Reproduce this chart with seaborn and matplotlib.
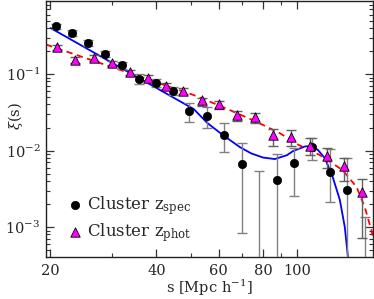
import numpy as np
import pandas as pd
import matplotlib
matplotlib.use("Agg")
import matplotlib.pyplot as plt
import matplotlib.ticker as mticker
import seaborn as sns

# cluster z_spec points (values below the axis are drawn off-plot)
s_spec = [20.8, 23.1, 25.6, 28.6, 31.9, 35.7, 39.9, 44.5, 49.4, 55.6, 62.0,
          69.7, 78.0, 87.6, 97.9, 110.0, 123.6, 138.0, 155.0]
xi_spec = [0.42, 0.344, 0.254, 0.183, 0.131, 0.086, 0.076, 0.060, 0.0328, 0.0282, 0.0159,
           0.00667, 1e-4, 0.00411, 0.00687, 0.0111, 0.00524, 0.00305, 1e-4]
lo_spec = [0.39, 0.318, 0.232, 0.166, 0.118, 0.074, 0.067, 0.053, 0.0236, 0.0197, 0.0096,
           0.00083, 1e-5, 1e-5, 0.00254, 0.0075, 0.00211, 1e-5, 1e-5]
hi_spec = [0.45, 0.372, 0.278, 0.202, 0.145, 0.099, 0.086, 0.068, 0.0418, 0.0370, 0.0229,
           0.0125, 0.0054, 0.0090, 0.0108, 0.0146, 0.0105, 0.0080, 0.00135]

# cluster z_phot points
s_phot = [20.9, 23.6, 26.6, 29.9, 33.6, 37.8, 42.5, 47.5, 53.7, 60.0, 67.5, 76.0,
          85.4, 96.2, 108.6, 121.0, 135.6, 152.0]
xi_phot = [0.225, 0.152, 0.162, 0.139, 0.106, 0.0887, 0.0697, 0.060, 0.0457, 0.0406, 0.0291,
           0.0274, 0.0159, 0.0150, 0.0115, 0.0085, 0.0063, 0.00285]
lo_phot = [0.207, 0.139, 0.149, 0.128, 0.098, 0.082, 0.064, 0.055, 0.0382, 0.0349, 0.0243,
           0.0229, 0.0115, 0.0115, 0.0087, 0.0059, 0.00398, 0.00072]
hi_phot = [0.243, 0.165, 0.175, 0.150, 0.114, 0.096, 0.076, 0.066, 0.0486, 0.0444, 0.0328,
           0.0309, 0.0191, 0.0186, 0.0146, 0.0108, 0.0080, 0.0042]

# model curves
s_blue = [20.1, 51.0, 55.7, 61.6, 68.8, 74.0, 80.0, 86.4, 93.5, 97.1, 105.0, 109.9, 114.3,
          119.6, 125.9, 131.9, 136.2, 139.0, 140.0]
xi_blue = [0.399, 0.0348, 0.0229, 0.01596, 0.0111, 0.0092, 0.0081, 0.00774, 0.0087, 0.0098,
           0.0113, 0.01145, 0.0102, 0.00798, 0.00451, 0.00226, 0.0010, 0.000406, 0.00025]
s_red = [19.5, 51.0, 61.6, 76.9, 89.2, 101.0, 115.8, 134.2, 147.1, 155.0, 161.9, 164.0]
xi_red = [0.243, 0.0531, 0.0371, 0.0236, 0.0169, 0.0118, 0.00873, 0.00556, 0.00333,
          0.00183, 0.000914, 0.0007]

spec = pd.DataFrame({"s": s_spec, "xi": xi_spec})
phot = pd.DataFrame({"s": s_phot, "xi": xi_phot})

sns.set_style("ticks")
plt.rcParams["font.family"] = ["DejaVu Serif"]
plt.rcParams["mathtext.fontset"] = "dejavuserif"

fig = plt.figure(figsize=(3.74, 2.99), dpi=100)
ax = fig.add_axes([0.123, 0.1405, 0.874, 0.856])

sns.lineplot(x=s_blue, y=xi_blue, color="#0000ff", lw=1.3, ax=ax, sort=False, estimator=None)
sns.lineplot(x=s_red, y=xi_red, color="#ff0000", lw=1.3, ls=(0, (3.5, 2.5)), ax=ax,
             sort=False, estimator=None)

# error bars
spec_err = [np.array(xi_spec) - np.array(lo_spec), np.array(hi_spec) - np.array(xi_spec)]
phot_err = [np.array(xi_phot) - np.array(lo_phot), np.array(hi_phot) - np.array(xi_phot)]
ax.errorbar(s_spec, xi_spec, yerr=spec_err, fmt="none", ecolor="#808080", elinewidth=1.0,
            capsize=3.5, capthick=1.0, zorder=3)
ax.errorbar(s_phot, xi_phot, yerr=phot_err, fmt="none", ecolor="#606060", elinewidth=1.0,
            capsize=3.5, capthick=1.0, zorder=3)

sns.scatterplot(data=spec, x="s", y="xi", marker="o", s=36, color="black", edgecolor="black",
                linewidth=0.5, ax=ax, zorder=4, label=r"Cluster z$_{\mathrm{spec}}$")
sns.scatterplot(data=phot, x="s", y="xi", marker="^", s=46, color="#ff00ff", edgecolor="black",
                linewidth=0.6, ax=ax, zorder=5, label=r"Cluster z$_{\mathrm{phot}}$")

ax.set_xscale("log")
ax.set_yscale("log")
ax.set_xlim(19.5, 163.5)
ax.set_ylim(4.06e-4, 0.9)

ax.xaxis.set_major_locator(mticker.FixedLocator([20, 40, 60, 80, 100]))
ax.xaxis.set_major_formatter(mticker.FixedFormatter(["20", "40", "60", "80", "100"]))
ax.xaxis.set_minor_locator(mticker.FixedLocator([30, 50, 70, 90]))
ax.xaxis.set_minor_formatter(mticker.NullFormatter())
ax.yaxis.set_major_locator(mticker.LogLocator(base=10, numticks=10))
ax.yaxis.set_minor_locator(mticker.LogLocator(base=10, subs=np.arange(2, 10), numticks=10))
ax.yaxis.set_minor_formatter(mticker.NullFormatter())

ax.tick_params(which="both", direction="in", top=True, right=True, color="#333333")
ax.tick_params(which="major", length=5.8, width=0.9, labelsize=10.5)
ax.tick_params(axis="x", which="major", pad=5)
ax.tick_params(axis="y", which="major", pad=4)
ax.tick_params(which="minor", length=3.2, width=0.8)
for sp in ax.spines.values():
    sp.set_color("#222222")
    sp.set_linewidth(1.0)

ax.set_xlabel(r"s [Mpc h$^{-1}$]", fontsize=10.5, labelpad=0)
ax.set_ylabel(r"$\xi$(s)", fontsize=10.5)
ax.yaxis.set_label_coords(-0.065, 0.55)

leg = ax.legend(loc="lower left", frameon=False, fontsize=12, handletextpad=0.15,
                borderaxespad=0.3, labelspacing=0.25, handlelength=1.1,
                bbox_to_anchor=(0.025, 0.005))

fig.savefig("out.png", dpi=100)
